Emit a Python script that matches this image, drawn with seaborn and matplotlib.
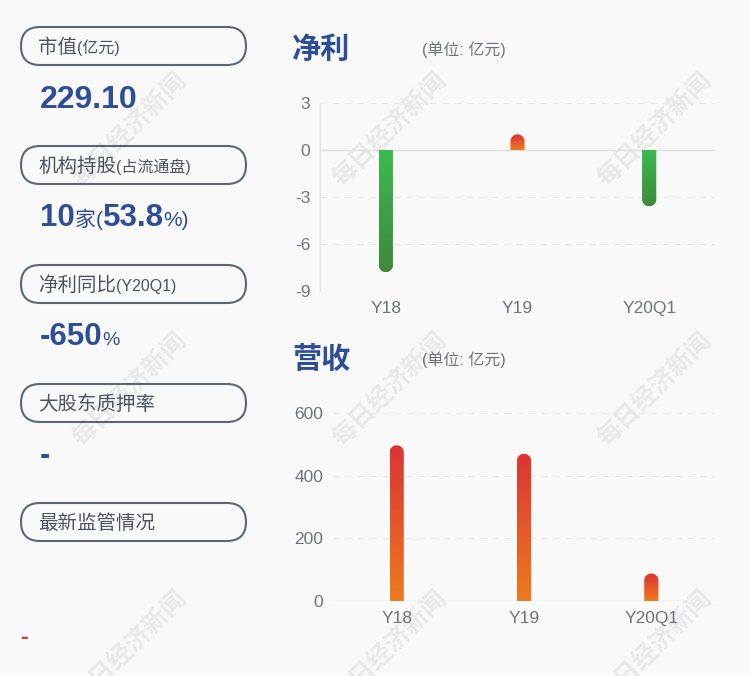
import numpy as np
import matplotlib
matplotlib.use("Agg")
import matplotlib.pyplot as plt
import seaborn as sns
from matplotlib.patches import FancyBboxPatch
from matplotlib.path import Path
from matplotlib.transforms import IdentityTransform
from matplotlib.colors import LinearSegmentedColormap

# ---- data ----
years = ["Y18", "Y19", "Y20Q1"]
net_profit = [-7.8, 1.0, -3.6]         # 亿元
revenue = [497, 470, 88]               # 亿元
profit_ticks = [3, 0, -3, -6, -9]
revenue_ticks = [0, 200, 400, 600]

box_labels = [("市值", "(亿元)"), ("机构持股", "(占流通盘)"), ("净利同比", "(Y20Q1)"),
              ("大股东质押率", ""), ("最新监管情况", "")]
market_cap = "229.10"
inst_count = "10"
inst_share = "53.8"
profit_yoy = "-650"
pledge_rate = "-"

BG = "#f9f9f9"
BLUE = "#2e4e98"
LABEL = "#4c5362"
EDGE = "#5c6676"
TICK = "#6e737c"
FAM = ["Liberation Sans", "Noto Sans CJK SC"]

sns.set_theme(style="white")
plt.rcParams["font.family"] = FAM
plt.rcParams["axes.unicode_minus"] = False

W, H = 750, 676
fig = plt.figure(figsize=(W / 100, H / 100), dpi=100, facecolor=BG)

# overlay axes in pixel coordinates for the left panel and titles
base = fig.add_axes([0, 0, 1, 1], zorder=-1)
base.set_xlim(0, W)
base.set_ylim(H, 0)
base.axis("off")
base.set_facecolor(BG)
renderer = fig.canvas.get_renderer()


def put_run(ax, x, y, pieces):
    """place several text pieces side by side on one baseline"""
    for s, size, weight in pieces:
        t = ax.text(x, y, s, fontsize=size, fontweight=weight, color=BLUE,
                    va="baseline", ha="left")
        x += t.get_window_extent(renderer).width
    return x


step = 119
for i, (big, small) in enumerate(box_labels):
    top = 27 + i * step
    base.add_patch(FancyBboxPatch((21, top), 225, 38,
                                  boxstyle="round,pad=0,rounding_size=19",
                                  fc="none", ec=EDGE, lw=1.5))
    t = base.text(38, top + 26, big, fontsize=14, color=LABEL, va="baseline")
    if small:
        x = 38 + t.get_window_extent(renderer).width
        base.text(x, top + 26, small, fontsize=11.5, color=LABEL, va="baseline")

put_run(base, 40, 108, [(market_cap, 23, "bold")])
put_run(base, 40, 226, [(inst_count, 22.5, "bold"), ("家", 15, "normal"), ("(", 15, "normal"),
                        (inst_share, 22.5, "bold"), ("%)", 15, "normal")])
put_run(base, 40, 345, [(profit_yoy, 22.5, "bold"), ("%", 14, "normal")])
put_run(base, 40, 464, [(pledge_rate, 22.5, "bold")])
base.text(20, 644, "-", fontsize=17, color="#d9363e", va="baseline", fontweight="bold")

# chart titles
for ty, title in [(50, "净利"), (360, "营收")]:
    base.text(292, ty, title, fontsize=21, fontweight="bold", color=BLUE, va="center")
    base.text(422, ty, "(单位: 亿元)", fontsize=11.5, color=TICK, va="center")


def gradient_bars(ax, values, pos_colors, neg_colors):
    ax.set_autoscale_on(False)
    grad = np.linspace(0, 1, 256).reshape(-1, 1)
    for patch, v in zip(ax.patches, values):
        patch.set_visible(False)
        x0, w = patch.get_x(), patch.get_width()
        top_c, bot_c = pos_colors if v >= 0 else neg_colors
        cmap = LinearSegmentedColormap.from_list("g", [bot_c, top_c])
        lo, hi = min(0, v), max(0, v)
        im = ax.imshow(grad, cmap=cmap, origin="lower", aspect="auto",
                       extent=[x0, x0 + w, lo, hi], zorder=3, interpolation="bilinear")
        # rounded end at the far side of the bar, built in pixels
        px0, pb = ax.transData.transform((x0, 0))
        px1, pe = ax.transData.transform((x0 + w, v))
        r = (px1 - px0) / 2
        s = 1 if pe >= pb else -1
        r = min(r, abs(pe - pb))
        cy = pe - s * r
        cx = (px0 + px1) / 2
        ang = np.linspace(np.pi, 0, 30)
        arc = np.column_stack([cx + r * np.cos(ang), cy + s * r * np.sin(ang)])
        verts = np.vstack([[px0, pb], [px0, cy], arc, [px1, cy], [px1, pb], [px0, pb]])
        im.set_clip_path(Path(verts, closed=True), IdentityTransform())


def style_axes(ax, ticks, left_line):
    ax.set_facecolor("none")
    ax.set_ylim(min(ticks), max(ticks))
    ax.set_xlim(-0.5, 2.5)
    ax.set_yticks(ticks)
    ax.set_xlabel("")
    ax.set_ylabel("")
    for sp in ax.spines.values():
        sp.set_visible(False)
    if left_line:
        ax.spines["left"].set_visible(True)
        ax.spines["left"].set_color("#e6e6e6")
        ax.spines["left"].set_linewidth(1)
    for t in ticks:
        if t == 0:
            ax.axhline(0, color="#dedede", lw=1, zorder=1)
        else:
            ax.axhline(t, color="#e8e8e8", lw=0.8, ls=(0, (6, 5)), zorder=1)
    ax.tick_params(length=0, labelsize=12.5, labelcolor=TICK)
    ax.tick_params(axis="y", pad=7)
    ax.tick_params(axis="x", pad=7)


red = ("#dc3434", "#ec7b1f")
green = ("#3cbb4f", "#3f893b")

ax1 = fig.add_axes([320 / W, 1 - 291 / H, 395 / W, 188 / H])
sns.barplot(x=years, y=net_profit, ax=ax1, width=0.108, color=green[0])
style_axes(ax1, profit_ticks, True)
gradient_bars(ax1, net_profit, red, green)

ax2 = fig.add_axes([333 / W, 1 - 601 / H, 382 / W, 188 / H])
sns.barplot(x=years, y=revenue, ax=ax2, width=0.112, color=red[0])
style_axes(ax2, revenue_ticks, False)
gradient_bars(ax2, revenue, red, green)

# watermark
for cx in [130, 390, 655]:
    for cy in [130, 390, 648]:
        base.text(cx, cy, "每日经济新闻", fontsize=18, fontweight="bold", color="#000000",
                  alpha=0.065, rotation=45, ha="center", va="center", zorder=10,
                  transform=base.transData)

fig.savefig("out.png", dpi=100, facecolor=BG)
